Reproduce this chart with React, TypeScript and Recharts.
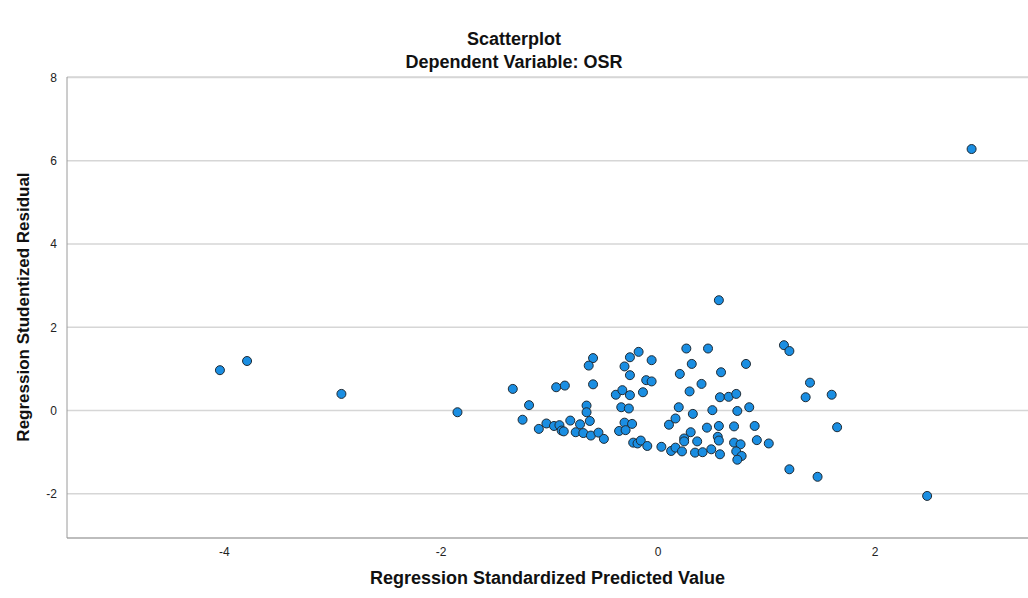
import { ScatterChart, Scatter, XAxis, YAxis, CartesianGrid } from "recharts";

const FONT = '"Liberation Sans", Arial, sans-serif';

// Regression Standardized Predicted Value
const predicted = [
    -4.04, -3.79, -2.92, -1.85, 0.56, 2.48, 2.89,
    -1.34, -1.19, -1.25, -1.1, -1.03, -0.96, -0.91, -0.89, -0.87, -0.94,
    -0.86, -0.81, -0.72, -0.76, -0.69, -0.66, -0.66, -0.63, -0.62, -0.55,
    -0.5, -0.6, -0.64, -0.6, -0.39, -0.33, -0.26, -0.34, -0.27, -0.31,
    -0.24, -0.36, -0.3, -0.26, -0.18, -0.31, -0.26, -0.06, -0.11, -0.06,
    -0.14, -0.23, -0.19, -0.16, -0.1, 0.03, 0.1, 0.26, 0.46, 0.31, 0.2,
    0.58, 0.81, 0.4, 0.29, 0.57, 0.65, 0.72, 0.19, 0.32, 0.5, 0.73, 0.84,
    0.16, 0.3, 0.45, 0.56, 0.7, 0.89, 0.24, 0.24, 0.36, 0.55, 0.56, 0.7,
    0.76, 0.91, 1.02, 0.12, 0.16, 0.22, 0.34, 0.41, 0.49, 0.57, 0.72, 0.77,
    0.73, 1.16, 1.21, 1.4, 1.36, 1.6, 1.65, 1.21, 1.47,
];

// Regression Studentized Residual
const residual = [
    0.97, 1.19, 0.4, -0.04, 2.65, -2.05, 6.28,
    0.52, 0.13, -0.22, -0.44, -0.31, -0.37, -0.35, -0.48, -0.5, 0.56,
    0.6, -0.24, -0.33, -0.52, -0.54, 0.12, -0.04, -0.25, -0.6, -0.53,
    -0.68, 1.26, 1.08, 0.63, 0.38, 0.49, 0.37, 0.08, 0.05, -0.29,
    -0.32, -0.49, -0.47, 1.28, 1.41, 1.06, 0.85, 1.21, 0.73, 0.7,
    0.44, -0.77, -0.79, -0.72, -0.85, -0.87, -0.34, 1.49, 1.49, 1.12, 0.88,
    0.92, 1.12, 0.64, 0.46, 0.32, 0.33, 0.4, 0.08, -0.08, 0.01, -0.01, 0.08,
    -0.19, -0.52, -0.41, -0.37, -0.38, -0.37, -0.67, -0.74, -0.74, -0.63, -0.72, -0.77,
    -0.81, -0.71, -0.79, -0.97, -0.89, -0.98, -1.01, -1.0, -0.93, -1.05, -0.98, -1.09,
    -1.18, 1.57, 1.43, 0.67, 0.32, 0.38, -0.4, -1.41, -1.59,
];

const xTicks = [-4, -2, 0, 2];
const yTicks = [-2, 0, 2, 4, 6, 8];

const points = predicted.map((x, i) => ({ x, y: residual[i] }));

const Dot = (props: any) => (
    <circle cx={props.cx} cy={props.cy} r={4.5} fill="#1a8ee2" stroke="#1f2a33" strokeWidth={1} />
);

const titleStyle = { position: "absolute" as const, left: 0, width: 1028, textAlign: "center" as const, fontSize: 18, fontWeight: "bold", color: "#111" };

export default function App() {
    return (
        <div style={{ position: "absolute", left: 0, top: 0, width: 1028, height: 598, background: "#fff", fontFamily: FONT }}>
            <div style={{ ...titleStyle, top: 29 }}>Scatterplot</div>
            <div style={{ ...titleStyle, top: 52 }}>Dependent Variable: OSR</div>
            <ScatterChart width={1028} height={598} margin={{ top: 77, right: 0, bottom: 0, left: 0 }}>
                <CartesianGrid horizontal vertical={false} stroke="#d6d6d6" strokeWidth={1.5} />
                <XAxis
                    type="number"
                    dataKey="x"
                    domain={[-5.45, 3.41]}
                    ticks={xTicks}
                    allowDataOverflow
                    height={60}
                    tickLine={false}
                    tickMargin={3}
                    axisLine={{ stroke: "#9a9a9a" }}
                    tick={{ fill: "#222", fontSize: 12, fontFamily: FONT }}
                />
                <YAxis
                    type="number"
                    dataKey="y"
                    domain={[-3.06, 8.01]}
                    ticks={yTicks}
                    allowDataOverflow
                    width={67}
                    tickLine={false}
                    tickMargin={4}
                    axisLine={{ stroke: "#9a9a9a" }}
                    tick={{ fill: "#222", fontSize: 12, fontFamily: FONT }}
                />
                <Scatter data={points} shape={Dot} isAnimationActive={false} />
            </ScatterChart>
            <div style={{ ...titleStyle, top: 568, left: 67, width: 961 }}>
                Regression Standardized Predicted Value
            </div>
            <div
                style={{
                    ...titleStyle,
                    fontSize: 17,
                    left: 24 - 200,
                    top: 307 - 10,
                    width: 400,
                    height: 20,
                    lineHeight: "20px",
                    transform: "rotate(-90deg)",
                }}
            >
                Regression Studentized Residual
            </div>
        </div>
    );
}
